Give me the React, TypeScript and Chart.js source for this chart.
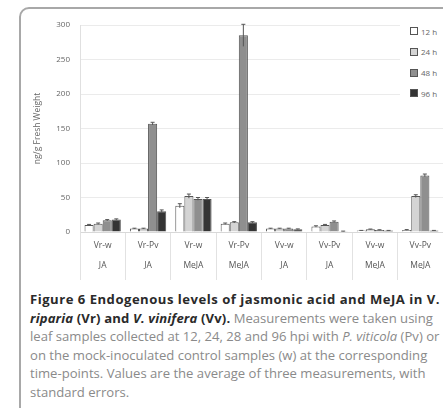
import React, { useEffect, useRef } from "react";
import { Chart, registerables } from "chart.js";

Chart.register(...registerables);

const categories: string[][] = [
  ["Vr-w", "JA"],
  ["Vr-Pv", "JA"],
  ["Vr-w", "MeJA"],
  ["Vr-Pv", "MeJA"],
  ["Vv-w", "JA"],
  ["Vv-Pv", "JA"],
  ["Vv-w", "MeJA"],
  ["Vv-Pv", "MeJA"],
];
const seriesNames = ["12 h", "24 h", "48 h", "96 h"];
const values12h = [10, 5, 38, 12, 5, 8, 2, 3];
const values24h = [12, 5, 52, 14, 5, 10, 4, 52];
const values48h = [17, 157, 48, 285, 5, 15, 3, 82];
const values96h = [18, 30, 48, 14, 4, 1, 2, 2];
const errors12h = [1, 0.5, 3, 1, 0.5, 1, 0.3, 0.5];
const errors24h = [1, 0.5, 3, 1, 0.5, 1, 0.3, 2];
const errors48h = [1, 2, 2, 16, 0.5, 1, 0.3, 2];
const errors96h = [1, 2, 2, 1, 0.5, 0.3, 0.3, 0.3];
const yTicks = [0, 50, 100, 150, 200, 250, 300];

const seriesValues = [values12h, values24h, values48h, values96h];
const seriesErrors = [errors12h, errors24h, errors48h, errors96h];
const seriesColors = ["#ffffff", "#d4d4d4", "#8f8f8f", "#343434"];

const errorBarPlugin = {
  id: "errorBars",
  afterDatasetsDraw(chart: any) {
    const ctx = chart.ctx;
    const y = chart.scales.y;
    chart.data.datasets.forEach((ds: any, i: number) => {
      const meta = chart.getDatasetMeta(i);
      meta.data.forEach((bar: any, j: number) => {
        const v = ds.data[j];
        const e = seriesErrors[i][j];
        const top = y.getPixelForValue(v + e);
        const bot = y.getPixelForValue(Math.max(0, v - e));
        ctx.save();
        ctx.strokeStyle = "#555";
        ctx.lineWidth = 1;
        ctx.beginPath();
        ctx.moveTo(bar.x, top);
        ctx.lineTo(bar.x, bot);
        ctx.moveTo(bar.x - 2, top);
        ctx.lineTo(bar.x + 2, top);
        ctx.stroke();
        ctx.restore();
      });
    });
  },
};

export default function App() {
  const ref = useRef<HTMLCanvasElement | null>(null);

  useEffect(() => {
    if (!ref.current) return;
    Chart.defaults.font.family = "'Open Sans', sans-serif";
    const chart = new Chart(ref.current, {
      type: "bar",
      data: {
        labels: categories,
        datasets: seriesNames.map((name, i) => ({
          label: name,
          data: seriesValues[i],
          backgroundColor: seriesColors[i],
          borderColor: "#555",
          borderWidth: 1,
          categoryPercentage: 0.8,
          barPercentage: 1,
        })),
      },
      options: {
        animation: false,
        responsive: false,
        layout: { padding: { left: 28, top: 25, right: 27, bottom: 8 } },
        plugins: {
          legend: { display: false },
          tooltip: { enabled: false },
        },
        scales: {
          x: {
            grid: {
              display: true,
              drawOnChartArea: false,
              drawTicks: true,
              tickLength: 48,
              color: "#e2e2e2",
              offset: true,
            },
            border: { display: true, color: "#d8d8d8" },
            ticks: {
              padding: -44,
              color: "#555",
              autoSkip: false,
              maxRotation: 0,
              font: { size: 8.5, lineHeight: "20px" },
            },
            afterFit(s: any) {
              s.height = 50;
            },
          },
          y: {
            min: 0,
            max: 300,
            afterBuildTicks(s: any) {
              s.ticks = yTicks.map((v) => ({ value: v }));
            },
            ticks: { padding: 10, color: "#666", font: { size: 8 } },
            grid: { color: "#ebebeb", drawTicks: false },
            border: { display: true, color: "#e0e0e0" },
            title: {
              display: true,
              text: "ng/g Fresh Weight",
              color: "#666",
              font: { size: 8.5 },
            },
            afterFit(s: any) {
              s.width = 52;
            },
          },
        },
      },
      plugins: [errorBarPlugin],
    });
    return () => chart.destroy();
  }, []);

  const regular = { color: "#8a8a8a", fontWeight: 400 as const, letterSpacing: "0px" };
  const bold = { color: "#2a2a2a", fontWeight: 700 as const, letterSpacing: "0.5px" };
  const bold2 = { color: "#2a2a2a", fontWeight: 700 as const, letterSpacing: "0.15px" };

  return (
    <div
      style={{
        position: "absolute",
        left: 0,
        top: 0,
        width: 443,
        height: 408,
        overflow: "hidden",
        background: "#fff",
        fontFamily: "'Open Sans', sans-serif",
      }}
    >
      <div
        style={{
          position: "absolute",
          left: 19,
          top: 7,
          width: 460,
          height: 430,
          border: "2px solid #a8a8a8",
          borderRadius: 10,
          boxSizing: "border-box",
        }}
      />
      <canvas
        ref={ref}
        width={470}
        height={290}
        style={{ position: "absolute", left: 0, top: 0, display: "block" }}
      />
      <div
        style={{
          position: "absolute",
          left: 400,
          top: 18,
          width: 60,
          height: 84,
          background: "#fff",
        }}
      >
        {seriesNames.map((name, i) => (
          <div
            key={name}
            style={{
              position: "absolute",
              left: 10,
              top: 8 + i * 20.8,
              height: 10,
              display: "flex",
              alignItems: "center",
              whiteSpace: "nowrap",
              fontSize: 8,
              color: "#666",
            }}
          >
            <span
              style={{
                display: "inline-block",
                width: 6,
                height: 6,
                border: "1px solid #555",
                background: seriesColors[i],
                marginRight: 3,
              }}
            />
            {name}
          </div>
        ))}
      </div>
      <div
        style={{
          position: "absolute",
          left: 30,
          top: 290,
          fontSize: 13.1,
          lineHeight: "18.6px",
          whiteSpace: "nowrap",
        }}
      >
        <div style={bold}>Figure 6 Endogenous levels of jasmonic acid and MeJA in V.</div>
        <div>
          <span style={bold2}>
            <i>riparia</i> (Vr) and <i>V. vinifera</i> (Vv).
          </span>
          <span style={regular}> Measurements were taken using</span>
        </div>
        <div style={regular}>
          leaf samples collected at 12, 24, 28 and 96 hpi with <i>P. viticola</i> (Pv) or
        </div>
        <div style={regular}>on the mock-inoculated control samples (w) at the corresponding</div>
        <div style={regular}>time-points. Values are the average of three measurements, with</div>
        <div style={regular}>standard errors.</div>
      </div>
    </div>
  );
}
